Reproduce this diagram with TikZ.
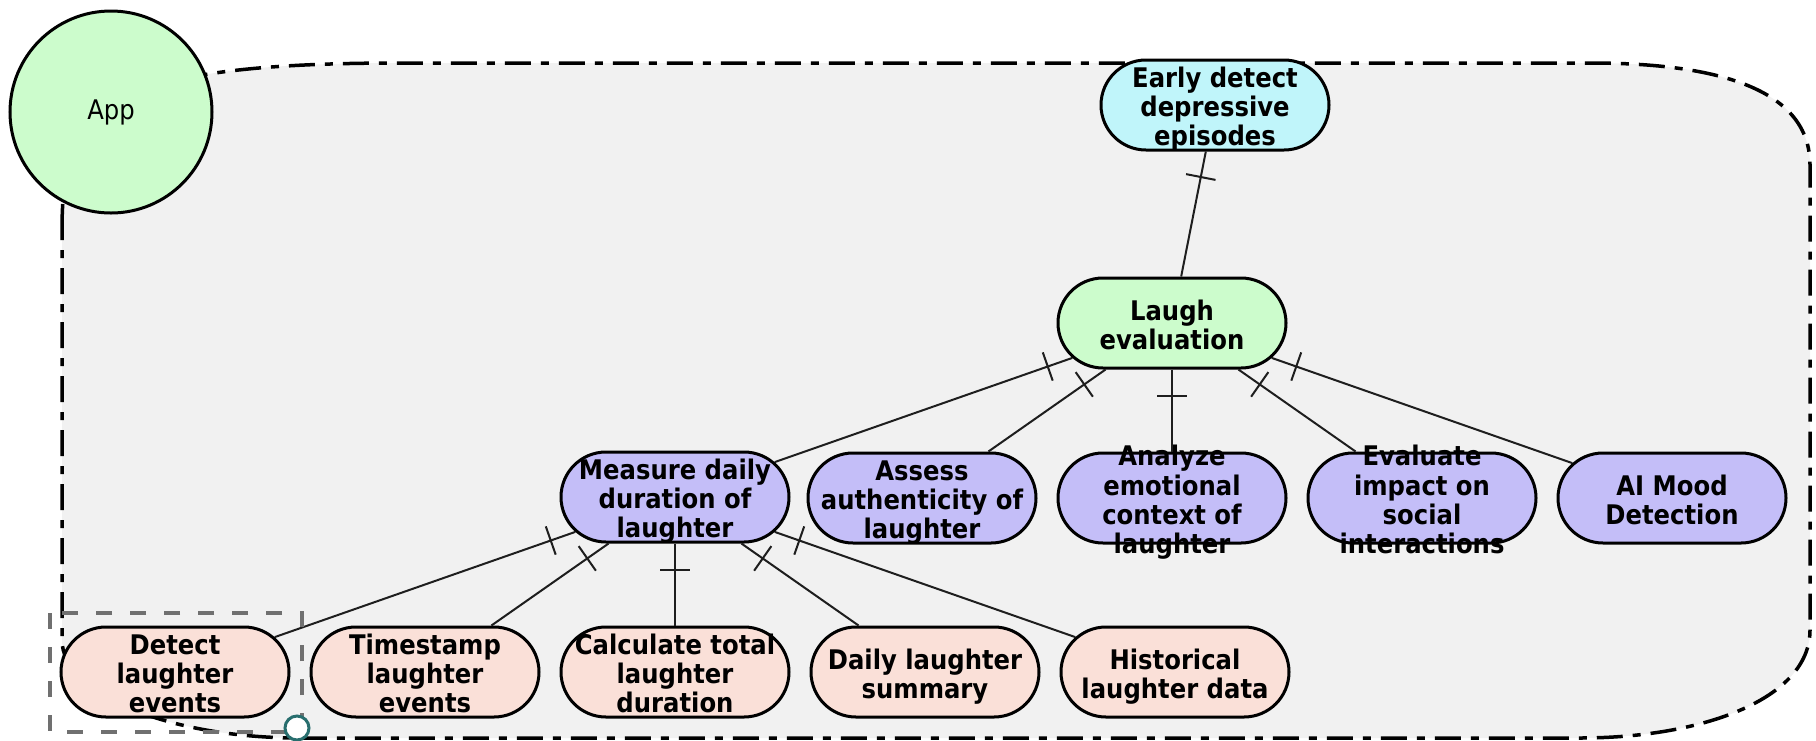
\documentclass[tikz,border=0pt]{standalone}
\usepackage{fontspec}
\setmainfont{DejaVu Sans}[FakeStretch=0.9]
\usetikzlibrary{shapes.misc,decorations.markings}

\definecolor{goalcyan}{RGB}{192,245,250}
\definecolor{evalgreen}{RGB}{204,252,204}
\definecolor{taskpurple}{RGB}{196,190,248}
\definecolor{leafpeach}{RGB}{250,224,216}
\definecolor{areagray}{RGB}{241,241,241}
\definecolor{selgray}{RGB}{112,112,112}
\definecolor{handleteal}{RGB}{40,110,110}
\definecolor{linkcol}{RGB}{30,30,30}

% centred label that takes no room, so every pill keeps its size
\newcommand\pilltext[1]{\makebox[0pt][c]{\raisebox{-12pt}[0pt][0pt]{%
  \begin{tabular}{@{}c@{}}#1\end{tabular}}}}

\begin{document}
\begin{tikzpicture}[x=1pt,y=-1pt,
  pill/.style={rounded rectangle, draw=black, line width=3pt,
    minimum width=228pt, minimum height=90pt, inner sep=0pt,
    font=\fontsize{27}{29}\selectfont\bfseries},
  goal/.style={pill, fill=goalcyan},
  evalbox/.style={pill, fill=evalgreen},
  taskbox/.style={pill, fill=taskpurple},
  leafbox/.style={pill, fill=leafpeach},
  link/.style={draw=linkcol, line width=2pt,
    postaction={decorate, decoration={markings,
      mark=at position 26pt with {\draw[linkcol, line width=2pt] (0pt,-15pt) -- (0pt,15pt);}}}},
  boundary/.style={draw=black, line width=3.5pt,
    dash pattern=on 26pt off 10pt on 8pt off 10pt},
  selbox/.style={draw=selgray, line width=4pt, dash pattern=on 16pt off 18pt},
]
\useasboundingbox (0,0) rectangle (1816,740);

% container area
\path[fill=areagray] (62,230) .. controls (62,110) and (100,63) .. (400,63)
  -- (1590,63) .. controls (1720,63) and (1810,90) .. (1810,165)
  -- (1810,630) .. controls (1810,700) and (1700,738) .. (1580,738)
  -- (300,738) .. controls (169,738) and (62,694) .. (62,640) -- cycle;
\path[boundary] (62,230) .. controls (62,110) and (100,63) .. (400,63)
  -- (1590,63) .. controls (1720,63) and (1810,90) .. (1810,165)
  -- (1810,630) .. controls (1810,700) and (1700,738) .. (1580,738)
  -- (300,738) .. controls (169,738) and (62,694) .. (62,640) -- cycle;

% actor
\node[circle, draw=black, line width=3pt, fill=evalgreen, minimum size=202pt,
  inner sep=0pt, font=\fontsize{27}{29}\selectfont] (app) at (111,112) {App};

% goal hierarchy
\node[goal] (early) at (1215,105) {\pilltext{Early detect\\depressive\\episodes}};
\node[evalbox] (laugh) at (1172,323) {\pilltext{Laugh\\evaluation}};

\node[taskbox] (measure) at (675,497) {\pilltext{Measure daily\\duration of\\laughter}};
\node[taskbox] (assess) at (922,498) {\pilltext{Assess\\authenticity of\\laughter}};
\node[taskbox] (analyze) at (1172,498) {\pilltext{Analyze\\emotional\\context of\\laughter}};
\node[taskbox] (impact) at (1422,498) {\pilltext{Evaluate\\impact on\\social\\interactions}};
\node[taskbox] (mood) at (1672,498) {\pilltext{AI Mood\\Detection}};

\node[leafbox] (detect) at (175,672) {\pilltext{Detect\\laughter\\events}};
\node[leafbox] (stamp) at (425,672) {\pilltext{Timestamp\\laughter\\events}};
\node[leafbox] (total) at (675,672) {\pilltext{Calculate total\\laughter\\duration}};
\node[leafbox] (summary) at (925,672) {\pilltext{Daily laughter\\summary}};
\node[leafbox] (history) at (1175,672) {\pilltext{Historical\\laughter data}};

% decomposition links
\draw[link] (early) -- (laugh);
\draw[link] (laugh) -- (measure);
\draw[link] (laugh) -- (assess);
\draw[link] (laugh) -- (analyze);
\draw[link] (laugh) -- (impact);
\draw[link] (laugh) -- (mood);
\draw[link] (measure) -- (detect);
\draw[link] (measure) -- (stamp);
\draw[link] (measure) -- (total);
\draw[link] (measure) -- (summary);
\draw[link] (measure) -- (history);

% selection frame and handle
\draw[selbox] (50,613) rectangle (302,732);
\node[circle, draw=handleteal, fill=white, line width=3pt, minimum size=24pt,
  inner sep=0pt] (handle) at (297,728) {};
\end{tikzpicture}
\end{document}
